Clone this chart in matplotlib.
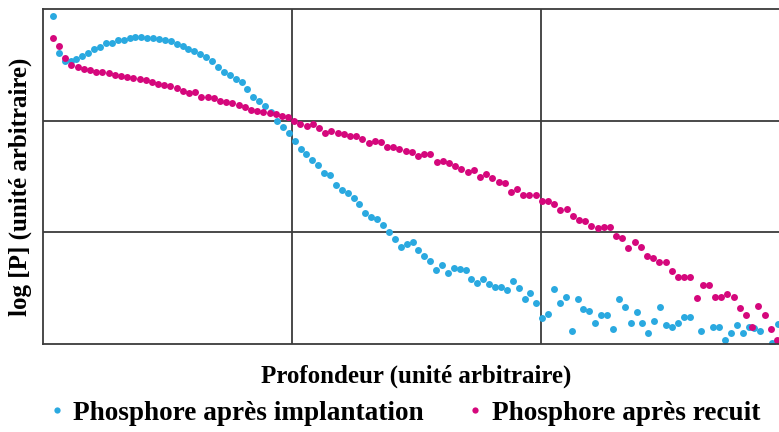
import numpy as np
import matplotlib
matplotlib.use("Agg")
import matplotlib.pyplot as plt
from matplotlib.lines import Line2D

# log [P] values (arbitrary units, 0..3)
p_implant = [2.94, 2.61, 2.53, 2.53, 2.55, 2.58, 2.61, 2.64, 2.66, 2.70,
             2.70, 2.72, 2.72, 2.74, 2.75, 2.75, 2.74, 2.74, 2.73, 2.72,
             2.71, 2.69, 2.67, 2.64, 2.62, 2.60, 2.57, 2.53, 2.48, 2.44,
             2.41, 2.37, 2.35, 2.28, 2.21, 2.18, 2.13, 2.08, 2.00, 1.94,
             1.89, 1.82, 1.75, 1.70, 1.65, 1.60, 1.53, 1.51, 1.42, 1.38,
             1.35, 1.31, 1.25, 1.17, 1.14, 1.12, 1.07, 1.00, 0.94, 0.87,
             0.90, 0.91, 0.84, 0.79, 0.74, 0.66, 0.71, 0.64, 0.68, 0.67,
             0.66, 0.58, 0.55, 0.58, 0.54, 0.51, 0.51, 0.48, 0.56, 0.50,
             0.40, 0.46, 0.37, 0.23, 0.27, 0.49, 0.37, 0.42, 0.12, 0.40,
             0.31, 0.30, 0.19, 0.26, 0.26, 0.13, 0.40, 0.33, 0.19, 0.29,
             0.19, 0.10, 0.21, 0.33, 0.17, 0.15, 0.19, 0.24, 0.24, -0.10,
             0.12, -0.10, 0.15, 0.15, 0.04, 0.10, 0.17, 0.10, 0.15, 0.14,
             0.12, -0.10, 0.01, 0.18]

p_recuit = [2.74, 2.67, 2.56, 2.50, 2.48, 2.46, 2.45, 2.44, 2.44, 2.43,
            2.41, 2.40, 2.39, 2.38, 2.37, 2.36, 2.35, 2.33, 2.32, 2.31,
            2.29, 2.27, 2.25, 2.26, 2.21, 2.21, 2.20, 2.18, 2.17, 2.16,
            2.14, 2.12, 2.10, 2.09, 2.08, 2.07, 2.06, 2.04, 2.03, 2.00,
            1.97, 1.95, 1.97, 1.93, 1.89, 1.91, 1.89, 1.88, 1.86, 1.86,
            1.84, 1.80, 1.82, 1.81, 1.76, 1.76, 1.75, 1.73, 1.72, 1.68,
            1.70, 1.70, 1.63, 1.64, 1.62, 1.59, 1.57, 1.54, 1.56, 1.50,
            1.52, 1.49, 1.45, 1.44, 1.36, 1.39, 1.33, 1.33, 1.33, 1.28,
            1.28, 1.25, 1.20, 1.21, 1.15, 1.11, 1.10, 1.06, 1.04, 1.05,
            1.05, 0.97, 0.95, 0.86, 0.91, 0.87, 0.79, 0.77, 0.73, 0.73,
            0.65, 0.60, 0.60, 0.60, 0.41, 0.53, 0.53, 0.42, 0.42, 0.45,
            0.42, 0.32, 0.26, 0.15, 0.34, 0.26, 0.13, 0.04]

# depth grids (evenly sampled)
x_implant = np.linspace(0.041, 2.953, len(p_implant))
x_recuit = np.linspace(0.041, 2.949, len(p_recuit))

blue = "#2AA9E0"
pink = "#D5077C"
grid_col = "#3c3c3c"

plt.rcParams['font.family'] = ['Liberation Serif', 'DejaVu Serif']

fig = plt.figure(figsize=(7.79, 4.32), dpi=100)
ax = fig.add_axes([42.7 / 779, 88 / 432, 747 / 779, 335 / 432])

ax.plot(x_implant, p_implant, 'o', ms=5.0, color=blue, mec='none')
ax.plot(x_recuit, p_recuit, 'o', ms=5.0, color=pink, mec='none')

ax.set_xlim(0, 3)
ax.set_ylim(0, 3)
ax.set_xticks([1, 2])
ax.set_yticks([1, 2])
ax.tick_params(length=0, labelbottom=False, labelleft=False)
ax.grid(True, color=grid_col, lw=1.3)
ax.set_axisbelow(True)
for s in ax.spines.values():
    s.set_color(grid_col)
    s.set_linewidth(1.3)

fig.text(416 / 779, 1 - 376 / 432, "Profondeur (unité arbitraire)",
         ha='center', va='center', fontsize=18, fontweight='bold')
fig.text(20 / 779, 1 - 187 / 432, "log [P] (unité arbitraire)",
         ha='center', va='center', rotation=90, fontsize=18, fontweight='bold')

handles = [Line2D([], [], ls='none', marker='o', ms=4.5, color=blue, mec='none'),
           Line2D([], [], ls='none', marker='o', ms=4.5, color=pink, mec='none')]
fig.legend(handles, ["Phosphore après implantation", "Phosphore après recuit"],
           loc='center', bbox_to_anchor=(0.52, 1 - 413 / 432), ncol=2,
           frameon=False, prop={'size': 19.6, 'weight': 'bold'},
           handlelength=0.5, handletextpad=0.35, columnspacing=1.65)

fig.savefig("out.png", dpi=100)
